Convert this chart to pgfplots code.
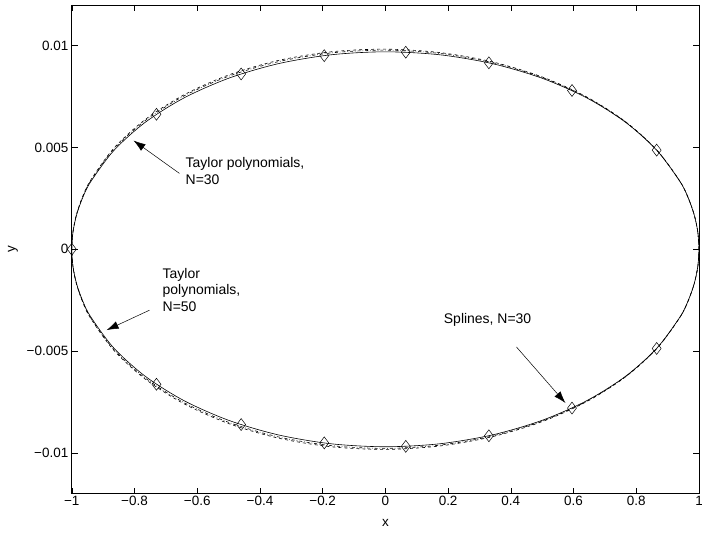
\documentclass[border=0pt]{standalone}
\usepackage{fontspec}
\setmainfont{Liberation Sans}
\usepackage{pgfplots}
\pgfplotsset{compat=1.18}
\usetikzlibrary{arrows.meta}
\begin{document}
\begin{tikzpicture}[font=\fontsize{14pt}{16.5pt}\selectfont]
\begin{axis}[
  scale only axis, width=629pt, height=490pt,
  xmin=-1, xmax=1, ymin=-0.012, ymax=0.012,
  scaled y ticks=false, scaled x ticks=false,
  xtick={-1,-0.8,-0.6,-0.4,-0.2,0,0.2,0.4,0.6,0.8,1},
  xticklabels={−1,−0.8,−0.6,−0.4,−0.2,0,0.2,0.4,0.6,0.8,1},
  ytick={-0.01,-0.005,0,0.005,0.01},
  yticklabels={−0.01,−0.005,0,0.005,0.01},
  tick align=inside, major tick length=6pt,
  tick label style={font=\fontsize{13.5pt}{15.5pt}\selectfont},
  xticklabel style={yshift=1pt},
  xlabel={x}, ylabel={y},
  every axis x label/.style={at={(axis description cs:0.5,-0.0592)}, anchor=center, font=\fontsize{13.5pt}{15.5pt}\selectfont},
  every axis y label/.style={at={(axis description cs:-0.0938,0.5)}, anchor=center, rotate=90, font=\fontsize{13.5pt}{15.5pt}\selectfont},
  axis line style={line width=0.6pt},
  every tick/.style={black, line width=0.5pt},
]
% exact (solid)
\addplot[black, line width=0.6pt, smooth] coordinates {
(1,0) (0.9962,0.000846) (0.9848,0.001684) (0.9659,0.00251) (0.9397,0.003317) (0.866,0.00485) (0.766,0.006235) (0.6428,0.00743) (0.5,0.0084) (0.342,0.009115) (0.1736,0.009553) (0,0.0097) (-0.1736,0.009553) (-0.342,0.009115) (-0.5,0.0084) (-0.6428,0.00743) (-0.766,0.006235) (-0.866,0.00485) (-0.9397,0.003317) (-0.9659,0.00251) (-0.9848,0.001684) (-0.9962,0.000846) (-1,0)
(-0.9962,-0.000846) (-0.9848,-0.001684) (-0.9659,-0.00251) (-0.9397,-0.003317) (-0.866,-0.00485) (-0.766,-0.006235) (-0.6428,-0.00743) (-0.5,-0.0084) (-0.342,-0.009115) (-0.1736,-0.009553) (0,-0.0097) (0.1736,-0.009553) (0.342,-0.009115) (0.5,-0.0084) (0.6428,-0.00743) (0.766,-0.006235) (0.866,-0.00485) (0.9397,-0.003317) (0.9659,-0.00251) (0.9848,-0.001684) (0.9962,-0.000846) (1,0)
};
% Taylor N=30 (dashed)
\addplot[black, line width=0.6pt, smooth, dashed] coordinates {
(1,0) (0.9962,0.000848) (0.9848,0.001688) (0.9659,0.002517) (0.9397,0.003327) (0.866,0.004868) (0.766,0.006265) (0.6428,0.007475) (0.5,0.008465) (0.342,0.009202) (0.1736,0.009662) (0,0.00983) (-0.1736,0.009699) (-0.342,0.009273) (-0.5,0.00856) (-0.6428,0.007584) (-0.766,0.006373) (-0.866,0.004963) (-0.9397,0.003397) (-0.9659,0.002571) (-0.9848,0.001725) (-0.9962,0.000867) (-1,0)
(-0.9962,-0.000867) (-0.9848,-0.001725) (-0.9659,-0.002571) (-0.9397,-0.003397) (-0.866,-0.004963) (-0.766,-0.006373) (-0.6428,-0.007584) (-0.5,-0.00856) (-0.342,-0.009273) (-0.1736,-0.009699) (0,-0.00983) (0.1736,-0.009662) (0.342,-0.009202) (0.5,-0.008465) (0.6428,-0.007475) (0.766,-0.006265) (0.866,-0.004868) (0.9397,-0.003327) (0.9659,-0.002517) (0.9848,-0.001688) (0.9962,-0.000848) (1,0)
};
% Taylor N=50 (dash-dot)
\addplot[black, line width=0.6pt, smooth, dash dot] coordinates {
(1,0) (0.9962,0.000847) (0.9848,0.001686) (0.9659,0.002513) (0.9397,0.003322) (0.866,0.00486) (0.766,0.006252) (0.6428,0.007457) (0.5,0.008439) (0.342,0.009168) (0.1736,0.00962) (0,0.00978) (-0.1736,0.009643) (-0.342,0.009213) (-0.5,0.0085) (-0.6428,0.007526) (-0.766,0.006321) (-0.866,0.004921) (-0.9397,0.003367) (-0.9659,0.002549) (-0.9848,0.00171) (-0.9962,0.000859) (-1,0)
(-0.9962,-0.000859) (-0.9848,-0.00171) (-0.9659,-0.002549) (-0.9397,-0.003367) (-0.866,-0.004921) (-0.766,-0.006321) (-0.6428,-0.007526) (-0.5,-0.0085) (-0.342,-0.009213) (-0.1736,-0.009643) (0,-0.00978) (0.1736,-0.00962) (0.342,-0.009168) (0.5,-0.008439) (0.6428,-0.007457) (0.766,-0.006252) (0.866,-0.00486) (0.9397,-0.003322) (0.9659,-0.002513) (0.9848,-0.001686) (0.9962,-0.000847) (1,0)
};
% Splines (diamonds)
\addplot[black, only marks, mark=diamond, mark size=6pt, mark options={line width=0.5pt}] coordinates {
(-1,0) (-0.73,0.00663) (-0.46,0.00861) (-0.195,0.00951) (0.065,0.00968) (0.33,0.00916) (0.595,0.0078) (0.865,0.00487)
(-0.73,-0.00663) (-0.46,-0.00861) (-0.195,-0.00951) (0.065,-0.00968) (0.33,-0.00916) (0.595,-0.0078) (0.865,-0.00487)
};
% annotations
\node[anchor=north west, align=left, inner sep=0pt] at (axis cs:-0.6375,0.00451) {Taylor polynomials,\\N=30};
\draw[-{Latex[length=12pt,width=8pt]}, line width=0.5pt] (axis cs:-0.657,0.00373) -- (axis cs:-0.803,0.00534);
\node[anchor=north west, align=left, inner sep=0pt] at (axis cs:-0.7107,-0.00093) {Taylor\\polynomials,\\N=50};
\draw[-{Latex[length=12pt,width=8pt]}, line width=0.5pt] (axis cs:-0.752,-0.00299) -- (axis cs:-0.889,-0.00397);
\node[anchor=west, inner sep=0pt] at (axis cs:0.186,-0.00348) {Splines, N=30};
\draw[-{Latex[length=12pt,width=8pt]}, line width=0.5pt] (axis cs:0.418,-0.0048) -- (axis cs:0.574,-0.00755);
\end{axis}
\pgfresetboundingbox
\path ([shift={(-72pt,-39pt)}]current axis.south west) rectangle ([shift={(3pt,5pt)}]current axis.north east);
\end{tikzpicture}
\end{document}
